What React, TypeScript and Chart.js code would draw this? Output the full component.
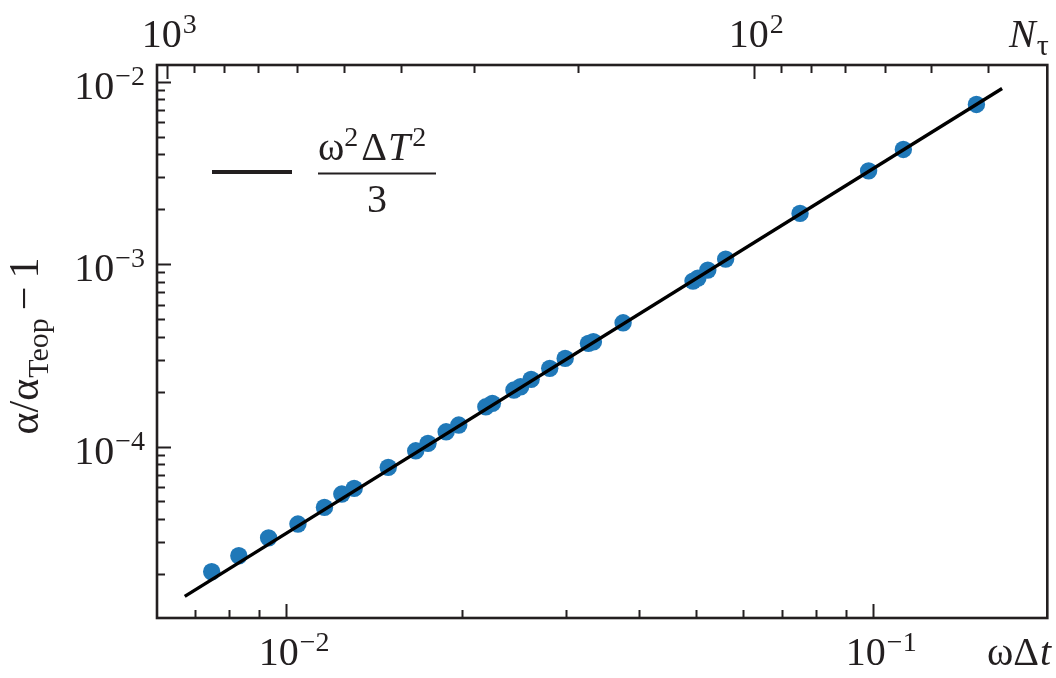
import React, { useEffect, useRef } from 'react';
import { Chart, registerables } from 'chart.js';

Chart.register(...registerables);

// ---- data ----
const omegaDt = [0.00748, 0.00832, 0.00935, 0.01049, 0.01164, 0.01246, 0.01308, 0.01495, 0.01665, 0.01747, 0.01876, 0.01971, 0.02192, 0.02249, 0.02447, 0.02512, 0.02618, 0.02816, 0.02992, 0.03278, 0.03342, 0.03755, 0.04939, 0.05035, 0.05235, 0.05614, 0.07516, 0.09835, 0.1127, 0.1501];
const alphaRel = [2.06e-5, 2.52e-5, 3.16e-5, 3.76e-5, 4.64e-5, 5.49e-5, 5.9e-5, 7.69e-5, 9.48e-5, 1.041e-4, 1.205e-4, 1.312e-4, 1.652e-4, 1.725e-4, 2.04e-4, 2.127e-4, 2.335e-4, 2.683e-4, 3.043e-4, 3.678e-4, 3.753e-4, 4.768e-4, 8.07e-4, 8.38e-4, 9.27e-4, 1.065e-3, 1.896e-3, 3.244e-3, 4.25e-3, 7.5e-3];
const fitX = [0.00673, 0.166];
const fitY = [1.51e-5, 9.18e-3];

const xRange = [0.006036, 0.1982];
const yRange = [1.149e-5, 0.01234];

const xMajorTicks = [0.01, 0.1];
const xMajorLabels = ['\u22122', '\u22121'];
const xMinorTicks = [0.007, 0.008, 0.009, 0.02, 0.03, 0.04, 0.05, 0.06, 0.07, 0.08, 0.09];
const nMajorTicks = [1000, 100];
const nMajorLabels = ['3', '2'];
const nMinorTicks = [900, 800, 700, 600, 500, 400, 300, 200, 90, 80, 70, 60, 50, 40];
const yMajorTicks = [1e-2, 1e-3, 1e-4];
const yMajorLabels = ['\u22122', '\u22123', '\u22124'];
const yMinorTicks = [2e-5, 3e-5, 4e-5, 5e-5, 6e-5, 7e-5, 8e-5, 9e-5, 2e-4, 3e-4, 4e-4, 5e-4, 6e-4, 7e-4, 8e-4, 9e-4, 2e-3, 3e-3, 4e-3, 5e-3, 6e-3, 7e-3, 8e-3, 9e-3];

const INK = '#231f20';
const DOT = '#1f78b8';
const SERIF = '"Liberation Serif", Tinos, "Times New Roman", Times, serif';
const f = (size: number, italic = false) => `${italic ? 'italic ' : ''}${size}px ${SERIF}`;

function drawPow(ctx: CanvasRenderingContext2D, x: number, y: number, base: string, exp: string, align: 'left' | 'right') {
  ctx.font = f(40);
  const wb = ctx.measureText(base).width;
  ctx.font = f(28);
  const we = ctx.measureText(exp).width;
  const x0 = align === 'right' ? x - wb - we - 1 : x;
  ctx.font = f(40);
  ctx.fillText(base, x0, y);
  ctx.font = f(28);
  ctx.fillText(exp, x0 + wb + 1, y - 14);
}

const axesPlugin = {
  id: 'physAxes',
  afterDraw(chart: any) {
    const ctx: CanvasRenderingContext2D = chart.ctx;
    const xs = chart.scales.x;
    const ys = chart.scales.y;
    const { left, right, top, bottom } = chart.chartArea;
    ctx.save();
    ctx.strokeStyle = INK;
    ctx.fillStyle = INK;
    ctx.textBaseline = 'alphabetic';
    ctx.textAlign = 'left';

    // frame
    ctx.lineWidth = 2.6;
    ctx.strokeRect(left, top, right - left, bottom - top);

    ctx.lineWidth = 2;
    const vtick = (px: number, y0: number, len: number) => {
      ctx.beginPath();
      ctx.moveTo(Math.round(px) + 0.5, y0);
      ctx.lineTo(Math.round(px) + 0.5, y0 + len);
      ctx.stroke();
    };
    const htick = (py: number, len: number) => {
      ctx.beginPath();
      ctx.moveTo(left, Math.round(py) + 0.5);
      ctx.lineTo(left + len, Math.round(py) + 0.5);
      ctx.stroke();
    };

    // bottom ticks (inward)
    xMajorTicks.forEach((v) => vtick(xs.getPixelForValue(v), bottom, -14));
    xMinorTicks.forEach((v) => vtick(xs.getPixelForValue(v), bottom, -8));
    // top ticks: N_tau = 2*pi / (omega*dt)
    nMajorTicks.forEach((n) => vtick(xs.getPixelForValue((2 * Math.PI) / n), top, 14));
    nMinorTicks.forEach((n) => vtick(xs.getPixelForValue((2 * Math.PI) / n), top, 8));
    // left ticks
    yMajorTicks.forEach((v) => htick(ys.getPixelForValue(v), 14));
    yMinorTicks.forEach((v) => htick(ys.getPixelForValue(v), 8));

    // tick labels
    xMajorTicks.forEach((v, i) => drawPow(ctx, xs.getPixelForValue(v) - 27, 665, '10', xMajorLabels[i], 'left'));
    nMajorTicks.forEach((n, i) => drawPow(ctx, xs.getPixelForValue((2 * Math.PI) / n) - 25.5, 47, '10', nMajorLabels[i], 'left'));
    yMajorTicks.forEach((v, i) => drawPow(ctx, left - 12, ys.getPixelForValue(v) + 17, '10', yMajorLabels[i], 'right'));

    // x title: ωΔt
    ctx.font = f(40);
    ctx.fillText('\u03c9\u0394', 987, 665);
    const wOD = ctx.measureText('\u03c9\u0394').width;
    ctx.font = f(40, true);
    ctx.fillText('t', 987 + wOD + 1, 665);

    // top title: N_τ
    ctx.font = f(40, true);
    ctx.fillText('N', 1009, 47);
    const wN = ctx.measureText('N').width;
    ctx.font = f(30);
    ctx.fillText('\u03c4', 1009 + wN + 1, 55);

    // y title: α/α_Teop − 1 (rotated)
    ctx.save();
    ctx.translate(38, 346);
    ctx.rotate(-Math.PI / 2);
    const big = 42;
    const small = 30;
    ctx.font = f(big);
    const p1 = '\u03b1/\u03b1';
    const w1 = ctx.measureText(p1).width;
    const pm = '\u2212';
    const wm = ctx.measureText(pm).width;
    const p3 = '1';
    const w3 = ctx.measureText(p3).width;
    ctx.font = f(small);
    const p2 = 'Teop';
    const w2 = ctx.measureText(p2).width;
    const gap = 8;
    const total = w1 + 1 + w2 + gap + wm + gap + w3;
    let cx = -total / 2;
    ctx.font = f(big);
    ctx.fillText(p1, cx, 0);
    cx += w1 + 1;
    ctx.font = f(small);
    ctx.fillText(p2, cx, 10);
    cx += w2 + gap;
    ctx.font = f(big);
    ctx.fillText(pm, cx, 0);
    cx += wm + gap;
    ctx.fillText(p3, cx, 0);
    ctx.restore();

    // legend
    ctx.lineWidth = 4;
    ctx.beginPath();
    ctx.moveTo(212, 172);
    ctx.lineTo(292, 172);
    ctx.stroke();
    const nb = 160;
    let nx = 318;
    ctx.font = f(40);
    ctx.fillText('\u03c9', nx, nb);
    nx += ctx.measureText('\u03c9').width;
    ctx.font = f(28);
    ctx.fillText('2', nx, nb - 14);
    nx += ctx.measureText('2').width + 3;
    ctx.font = f(40);
    ctx.fillText('\u0394', nx, nb);
    nx += ctx.measureText('\u0394').width + 1;
    ctx.font = f(40, true);
    ctx.fillText('T', nx, nb);
    nx += ctx.measureText('T').width + 2;
    ctx.font = f(28);
    ctx.fillText('2', nx, nb - 14);
    nx += ctx.measureText('2').width;
    const barEnd = Math.max(436, nx + 1);
    ctx.lineWidth = 2;
    ctx.beginPath();
    ctx.moveTo(318, 173.5);
    ctx.lineTo(barEnd, 173.5);
    ctx.stroke();
    ctx.font = f(40);
    ctx.textAlign = 'center';
    ctx.fillText('3', (318 + barEnd) / 2, 212);

    ctx.restore();
  },
};

export default function App() {
  const ref = useRef<HTMLCanvasElement | null>(null);
  useEffect(() => {
    if (!ref.current) return;
    let alive = true;
    const chart = new Chart(ref.current, {
      type: 'scatter',
      data: {
        datasets: [
          {
            label: 'fit',
            data: fitX.map((x, i) => ({ x, y: fitY[i] })),
            showLine: true,
            borderColor: '#000000',
            borderWidth: 3.4,
            pointRadius: 0,
            fill: false,
          },
          {
            label: 'data',
            data: omegaDt.map((x, i) => ({ x, y: alphaRel[i] })),
            backgroundColor: DOT,
            borderWidth: 0,
            pointRadius: 8.7,
          },
        ],
      },
      options: {
        animation: false,
        responsive: true,
        maintainAspectRatio: false,
        devicePixelRatio: 1,
        layout: { padding: { left: 157, right: 2, top: 65, bottom: 60 } },
        plugins: { legend: { display: false }, tooltip: { enabled: false } },
        scales: {
          x: { type: 'logarithmic', min: xRange[0], max: xRange[1], display: false },
          y: { type: 'logarithmic', min: yRange[0], max: yRange[1], display: false },
        },
      },
      plugins: [axesPlugin],
    });
    const fonts: any = (document as any).fonts;
    if (fonts && fonts.load) {
      Promise.all([
        fonts.load('40px "Liberation Serif"', '10\u03c9\u0394\u03b1'),
        fonts.load('italic 40px "Liberation Serif"', 'NTt'),
      ])
        .catch(() => null)
        .then(() => {
          if (alive) chart.draw();
        });
    }
    return () => {
      alive = false;
      chart.destroy();
    };
  }, []);
  return (
    <div style={{ position: 'fixed', left: 0, top: 0, width: 1056, height: 678, background: '#ffffff' }}>
      <canvas ref={ref} />
    </div>
  );
}
